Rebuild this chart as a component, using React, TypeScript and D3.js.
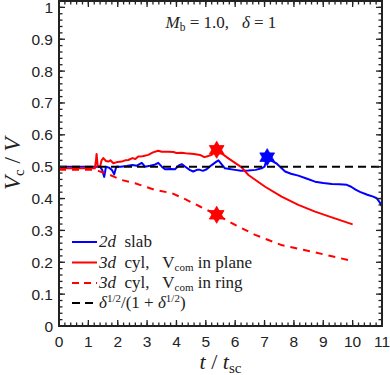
import React from "react";
import * as d3 from "d3";

// 2d slab (blue)
const slabT = [0, 1.3, 1.4, 1.47, 1.54, 1.6, 1.7, 1.8, 1.88, 1.95, 2.1, 2.3, 2.5, 2.65, 2.82, 2.93, 3.1, 3.25, 3.38, 3.5, 3.61, 3.8, 3.95, 4.1, 4.18, 4.3, 4.45, 4.57, 4.7, 4.8, 4.9, 5.03, 5.2, 5.35, 5.43, 5.65, 5.99, 6.2, 6.45, 6.7, 6.9, 7.0, 7.09, 7.25, 7.41, 7.7, 7.9, 8.15, 8.45, 8.72, 9.0, 9.29, 9.55, 9.8, 9.95, 10.1, 10.25, 10.5, 10.7, 10.82, 10.93, 11];
const slabV = [0.5, 0.5, 0.5, 0.49, 0.468, 0.5, 0.497, 0.49, 0.476, 0.5, 0.5, 0.502, 0.505, 0.503, 0.512, 0.5, 0.503, 0.506, 0.512, 0.5, 0.492, 0.493, 0.492, 0.505, 0.508, 0.5, 0.49, 0.485, 0.49, 0.49, 0.487, 0.492, 0.505, 0.515, 0.52, 0.495, 0.49, 0.487, 0.488, 0.49, 0.495, 0.5, 0.53, 0.518, 0.51, 0.485, 0.478, 0.472, 0.462, 0.453, 0.449, 0.446, 0.445, 0.443, 0.437, 0.428, 0.421, 0.412, 0.406, 0.401, 0.387, 0.375];

// 3d cyl, V_com in plane (red solid)
const planeT = [0, 1.22, 1.26, 1.28, 1.32, 1.4, 1.45, 1.51, 1.6, 1.68, 1.75, 1.85, 2.0, 2.14, 2.25, 2.36, 2.5, 2.6, 2.7, 2.85, 3.04, 3.2, 3.38, 3.5, 3.72, 3.9, 4.0, 4.18, 4.4, 4.6, 4.8, 4.95, 5.03, 5.2, 5.37, 5.77, 6.22, 6.45, 7.02, 7.58, 8.15, 8.72, 9.29, 10.0];
const planeV = [0.495, 0.495, 0.52, 0.54, 0.5, 0.5, 0.52, 0.527, 0.518, 0.516, 0.52, 0.511, 0.515, 0.516, 0.52, 0.521, 0.527, 0.524, 0.532, 0.533, 0.537, 0.545, 0.55, 0.547, 0.547, 0.546, 0.543, 0.544, 0.541, 0.54, 0.537, 0.53, 0.532, 0.537, 0.553, 0.526, 0.498, 0.474, 0.437, 0.406, 0.38, 0.359, 0.341, 0.319];

// 3d cyl, V_com in ring (red dashed)
const ringT = [0, 1.2, 1.4, 1.74, 2.14, 2.59, 3.27, 3.84, 4.23, 4.8, 5.37, 6.0, 6.68, 7.58, 8.72, 9.9];
const ringV = [0.49, 0.49, 0.485, 0.474, 0.458, 0.448, 0.427, 0.417, 0.401, 0.375, 0.349, 0.317, 0.286, 0.254, 0.231, 0.206];

// reference delta^{1/2}/(1+delta^{1/2})
const refT = [0, 11];
const refV = [0.5, 0.5];

// hexagram markers
const starT = [5.37, 7.09, 5.37];
const starV = [0.553, 0.53, 0.349];
const starColor = ["#ff0000", "#0000ff", "#ff0000"];

const xTicks = [0, 1, 2, 3, 4, 5, 6, 7, 8, 9, 10, 11];
const yTicks = [0, 0.1, 0.2, 0.3, 0.4, 0.5, 0.6, 0.7, 0.8, 0.9, 1];
const yTickLabels = ["0", "0.1", "0.2", "0.3", "0.4", "0.5", "0.6", "0.7", "0.8", "0.9", "1"];

const W = 390;
const H = 375;
const left = 59;
const right = 382;
const top = 1;
const bottom = 326;

const x = d3.scaleLinear().domain([0, 11]).range([left, right]);
const y = d3.scaleLinear().domain([0, 1.02]).range([bottom, top]);

const serif = "'Liberation Serif', 'DejaVu Serif', serif";
const sans = "'Liberation Sans', Arial, sans-serif";
const sp = "\u00a0";

function series(ts: number[], vs: number[]) {
  const line = d3
    .line<number>()
    .x((d, i) => x(ts[i]))
    .y((d) => y(d));
  return line(vs) || "";
}

function hexagram(cx: number, cy: number, r: number) {
  const tri = (a0: number) =>
    [0, 1, 2]
      .map((k) => {
        const a = ((a0 + k * 120) * Math.PI) / 180;
        return `${cx + r * Math.cos(a)},${cy + r * Math.sin(a)}`;
      })
      .join(" L");
  return `M${tri(-90)} Z M${tri(90)} Z`;
}

export default function App() {
  const xMinor = d3.range(0, 11.001, 0.2);
  const yMinor = d3.range(0, 1.0201, 0.02);

  const legendRows = [
    { y: 242, color: "#0000ff", dash: "none" },
    { y: 262.5, color: "#ff0000", dash: "none" },
    { y: 283, color: "#ff0000", dash: "7,5" },
    { y: 303, color: "#000000", dash: "8,5" },
  ];

  return (
    <svg
      width={W}
      height={H}
      style={{ position: "absolute", left: 0, top: 0, background: "#fff" }}
    >
      <defs>
        <clipPath id="plot">
          <rect x={left} y={top} width={right - left} height={bottom - top} />
        </clipPath>
      </defs>

      {/* curves */}
      <g clipPath="url(#plot)" fill="none" strokeWidth={2} strokeLinejoin="round">
        <path d={series(slabT, slabV)} stroke="#0000ff" />
        <path d={series(planeT, planeV)} stroke="#ff0000" />
        <path d={series(ringT, ringV)} stroke="#ff0000" strokeDasharray="7,6" />
        <path d={series(refT, refV)} stroke="#000" strokeDasharray="8,5" />
      </g>

      {starT.map((t, i) => (
        <path key={i} d={hexagram(x(t), y(starV[i]), 8.5)} fill={starColor[i]} stroke={starColor[i]} strokeWidth={0.8} />
      ))}

      {/* box + ticks */}
      <g stroke="#222" strokeWidth={1.3}>
        {xMinor.map((t, i) => (
          <g key={"xm" + i}>
            <line x1={x(t)} x2={x(t)} y1={bottom} y2={bottom - 3.5} />
            <line x1={x(t)} x2={x(t)} y1={top} y2={top + 3.5} />
          </g>
        ))}
        {xTicks.map((t) => (
          <g key={"xM" + t}>
            <line x1={x(t)} x2={x(t)} y1={bottom} y2={bottom - 6} />
            <line x1={x(t)} x2={x(t)} y1={top} y2={top + 6} />
          </g>
        ))}
        {yMinor.map((v, i) => (
          <g key={"ym" + i}>
            <line x1={left} x2={left + 3.5} y1={y(v)} y2={y(v)} />
            <line x1={right} x2={right - 3.5} y1={y(v)} y2={y(v)} />
          </g>
        ))}
        {yTicks.map((v) => (
          <g key={"yM" + v}>
            <line x1={left} x2={left + 6} y1={y(v)} y2={y(v)} />
            <line x1={right} x2={right - 6} y1={y(v)} y2={y(v)} />
          </g>
        ))}
        <rect x={left} y={top} width={right - left} height={bottom - top} fill="none" strokeWidth={2} />
      </g>

      {/* tick labels */}
      <g fontFamily={sans} fontSize={15.5} fill="#222">
        {xTicks.map((t) => (
          <text key={"xl" + t} x={x(t)} y={347} textAnchor="middle">
            {t}
          </text>
        ))}
        {yTicks.map((v, i) => (
          <text key={"yl" + v} x={53} y={y(v) + 5.5} textAnchor="end">
            {yTickLabels[i]}
          </text>
        ))}
      </g>

      {/* axis labels */}
      <text x={(left + right) / 2} y={369} textAnchor="middle" fontFamily={serif} fontSize={22} fill="#222">
        <tspan fontStyle="italic">t</tspan>
        <tspan>{`${sp}/${sp}`}</tspan>
        <tspan fontStyle="italic">t</tspan>
        <tspan fontSize={15} dy={4}>sc</tspan>
      </text>
      <text
        transform={`translate(20,${y(0.5) - 3}) rotate(-90)`}
        textAnchor="middle"
        fontFamily={serif}
        fontSize={23}
        fill="#222"
      >
        <tspan fontStyle="italic">V</tspan>
        <tspan fontSize={15} dy={4}>c</tspan>
        <tspan dy={-4}>{`${sp}/${sp}`}</tspan>
        <tspan fontStyle="italic">V</tspan>
      </text>

      {/* annotation */}
      <text x={221} y={28} textAnchor="middle" fontFamily={serif} fontSize={17} fill="#222">
        <tspan fontStyle="italic">M</tspan>
        <tspan fontSize={11.5} dy={3}>b</tspan>
        <tspan dy={-3}>{`${sp}=${sp}1.0,${sp}${sp}${sp}`}</tspan>
        <tspan fontStyle="italic">δ</tspan>
        <tspan>{`${sp}=${sp}1`}</tspan>
      </text>

      {/* legend */}
      {legendRows.map((r, i) => (
        <line key={"lg" + i} x1={72} x2={97} y1={r.y} y2={r.y} stroke={r.color} strokeWidth={2} strokeDasharray={r.dash} />
      ))}
      <g fontFamily={serif} fontSize={17} fill="#222">
        <text x={99} y={legendRows[0].y + 5}>
          <tspan fontStyle="italic">2d</tspan>
          <tspan>{`${sp}${sp}slab`}</tspan>
        </text>
        <text x={99} y={legendRows[1].y + 5}>
          <tspan fontStyle="italic">3d</tspan>
          <tspan>{`${sp}${sp}cyl,${sp}${sp}${sp}V`}</tspan>
          <tspan fontSize={11} dy={3}>com</tspan>
          <tspan dy={-3}>{`${sp}in${sp}plane`}</tspan>
        </text>
        <text x={99} y={legendRows[2].y + 5}>
          <tspan fontStyle="italic">3d</tspan>
          <tspan>{`${sp}${sp}cyl,${sp}${sp}${sp}V`}</tspan>
          <tspan fontSize={11} dy={3}>com</tspan>
          <tspan dy={-3}>{`${sp}in${sp}ring`}</tspan>
        </text>
        <text x={99} y={legendRows[3].y + 5}>
          <tspan fontStyle="italic">δ</tspan>
          <tspan fontSize={11} dy={-6}>1/2</tspan>
          <tspan dy={6}>{`/(1${sp}+${sp}`}</tspan>
          <tspan fontStyle="italic">δ</tspan>
          <tspan fontSize={11} dy={-6}>1/2</tspan>
          <tspan dy={6}>)</tspan>
        </text>
      </g>
    </svg>
  );
}
